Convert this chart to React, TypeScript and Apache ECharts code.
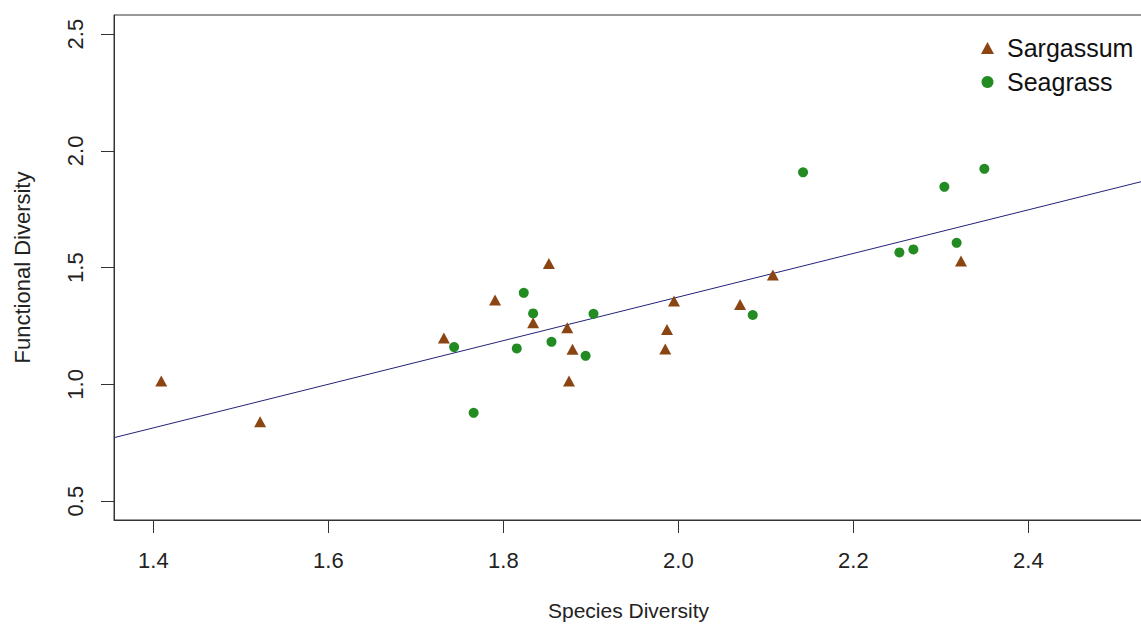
import React, { useEffect, useRef } from "react";
import * as echarts from "echarts";

// Sargassum (triangles)
const sargassumX = [1.409, 1.522, 1.732, 1.7905, 1.852, 1.834, 1.873, 1.879, 1.875, 1.995, 1.987, 1.985, 2.0705, 2.108, 2.323];
const sargassumY = [1.014, 0.84, 1.199, 1.361, 1.518, 1.264, 1.242, 1.15, 1.014, 1.357, 1.235, 1.151, 1.342, 1.468, 1.528];

// Seagrass (circles)
const seagrassX = [1.7437, 1.8233, 1.834, 1.903, 1.8153, 1.855, 1.894, 1.766, 2.085, 2.1425, 2.2526, 2.2686, 2.304, 2.318, 2.3497];
const seagrassY = [1.1595, 1.392, 1.304, 1.302, 1.154, 1.182, 1.122, 0.878, 1.297, 1.908, 1.565, 1.578, 1.846, 1.606, 1.923];

// Regression line: y = intercept + slope * x
const fitIntercept = -0.494;
const fitSlope = 0.934;

const xTicks = [1.4, 1.6, 1.8, 2.0, 2.2, 2.4];
const yTicks = [0.5, 1.0, 1.5, 2.0, 2.5];
const xRange = [1.355, 2.531];
const yRange = [0.419, 2.582];

const FONT = "Liberation Sans, Arial, sans-serif";

export default function App() {
  const ref = useRef<HTMLDivElement>(null);
  useEffect(() => {
    if (!ref.current) return;
    const chart = echarts.init(ref.current, null, { renderer: "svg" });
    const sarg = sargassumX.map((x, i) => [x, sargassumY[i]]);
    const seag = seagrassX.map((x, i) => [x, seagrassY[i]]);
    const fit = xRange.map((x) => [x, fitIntercept + fitSlope * x]);
    chart.setOption({
      animation: false,
      backgroundColor: "#ffffff",
      textStyle: { fontFamily: FONT },
      grid: {
        show: true,
        left: 114,
        top: 15,
        width: 1029,
        height: 505,
        containLabel: false,
        outerBoundsMode: "none",
        borderColor: "#333",
        borderWidth: 1,
        backgroundColor: "transparent",
      },
      legend: {
        data: ["Sargassum", "Seagrass"],
        orient: "vertical",
        left: 976,
        top: 28,
        itemWidth: 13,
        itemHeight: 12,
        itemGap: 4,
        textStyle: { fontSize: 25, color: "#111", fontFamily: FONT, lineHeight: 30, padding: [0, 0, 0, 8] },
      },
      xAxis: {
        type: "value",
        min: xRange[0],
        max: xRange[1],
        name: "Species Diversity",
        nameLocation: "middle",
        nameGap: 80,
        nameTextStyle: { fontSize: 21, color: "#222", fontFamily: FONT },
        axisLine: { show: true, lineStyle: { color: "#333", width: 1 } },
        axisTick: { show: true, length: 13, lineStyle: { color: "#333" }, customValues: xTicks },
        axisLabel: {
          fontSize: 22,
          color: "#222",
          margin: 29,
          fontFamily: FONT,
          customValues: xTicks,
          formatter: (v: number) => v.toFixed(1),
        },
        splitLine: { show: false },
      },
      yAxis: {
        type: "value",
        min: yRange[0],
        max: yRange[1],
        name: "Functional Diversity",
        nameLocation: "middle",
        nameGap: 81,
        nameRotate: 90,
        nameTextStyle: { fontSize: 22, color: "#222", fontFamily: FONT },
        axisLine: { show: true, lineStyle: { color: "#333", width: 1 } },
        axisTick: { show: true, length: 13, lineStyle: { color: "#333" }, customValues: yTicks },
        axisLabel: {
          fontSize: 22,
          color: "#222",
          margin: 28,
          rotate: 90,
          fontFamily: FONT,
          customValues: yTicks,
          formatter: (v: number) => v.toFixed(1),
        },
        splitLine: { show: false },
      },
      series: [
        {
          name: "fit",
          type: "line",
          data: fit,
          symbol: "none",
          silent: true,
          lineStyle: { color: "#22227a", width: 1 },
          z: 1,
        },
        {
          name: "Sargassum",
          type: "scatter",
          data: sarg,
          symbol: "triangle",
          symbolSize: [12, 11],
          itemStyle: { color: "#8B4513", opacity: 1 },
          z: 3,
        },
        {
          name: "Seagrass",
          type: "scatter",
          data: seag,
          symbol: "circle",
          symbolSize: 10,
          itemStyle: { color: "#228B22", opacity: 1 },
          z: 3,
        },
      ],
    });
    return () => chart.dispose();
  }, []);
  return (
    <div
      ref={ref}
      style={{ position: "fixed", left: 0, top: 0, width: 1150, height: 626 }}
    />
  );
}
